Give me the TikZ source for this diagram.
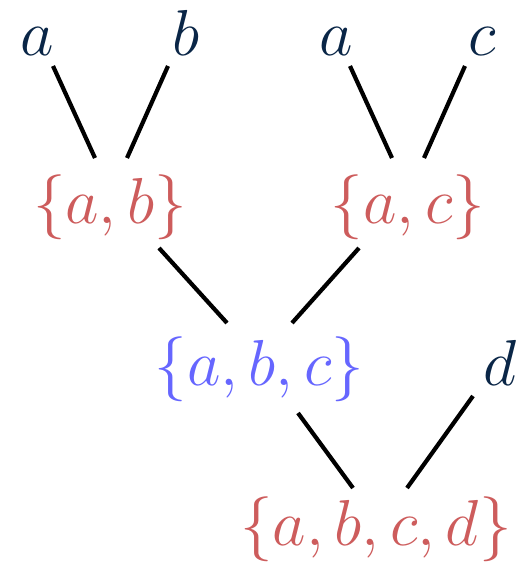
\RequirePackage{fix-cm}
\documentclass[tikz,border=0pt]{standalone}
\usetikzlibrary{calc}
\definecolor{leafc}{RGB}{10,38,71}
\definecolor{setred}{RGB}{205,92,92}
\definecolor{setblue}{RGB}{102,102,255}
\begin{document}
\begin{tikzpicture}[x=1pt,y=-1pt,
  lbl/.style={anchor=base,inner sep=0pt,font=\fontsize{65}{78}\selectfont},
  leaf/.style={lbl,text=leafc},
  redset/.style={lbl,text=setred},
  blueset/.style={lbl,text=setblue},
  edge/.style={line width=4.2pt,black}]
\useasboundingbox (0,0) rectangle (518,567);
\node[leaf] (a1) at (37,56) {$a$};
\node[leaf] (b1) at (186,56) {$b$};
\node[leaf] (a2) at (336,56) {$a$};
\node[leaf] (c1) at (482,56) {$c$};
\node[redset] (ab) at (110,223) {$\{a,b\}$};
\node[redset] (ac) at (408,223) {$\{a,c\}$};
\node[blueset] (abc) at (259.5,385) {$\{a,b,c\}$};
\node[leaf] (d1) at (500,385) {$d$};
\node[redset] (abcd) at (376,545) {$\{a,b,c,d\}$};
\draw[edge] ($(a1.base)+(16,10)$) -- ($(ab.base)+(-15,-65)$);
\draw[edge] ($(b1.base)+(-18,10)$) -- ($(ab.base)+(17,-65)$);
\draw[edge] ($(a2.base)+(14,10)$) -- ($(ac.base)+(-16,-65)$);
\draw[edge] ($(c1.base)+(-17,10)$) -- ($(ac.base)+(16,-65)$);
\draw[edge] ($(ab.base)+(49,25)$) -- ($(abc.base)+(-32.5,-62)$);
\draw[edge] ($(ac.base)+(-49,25)$) -- ($(abc.base)+(32.5,-62)$);
\draw[edge] ($(abc.base)+(38.5,28)$) -- ($(abcd.base)+(-23,-57)$);
\draw[edge] ($(d1.base)+(-27,11)$) -- ($(abcd.base)+(31,-57)$);
\end{tikzpicture}
\end{document}
